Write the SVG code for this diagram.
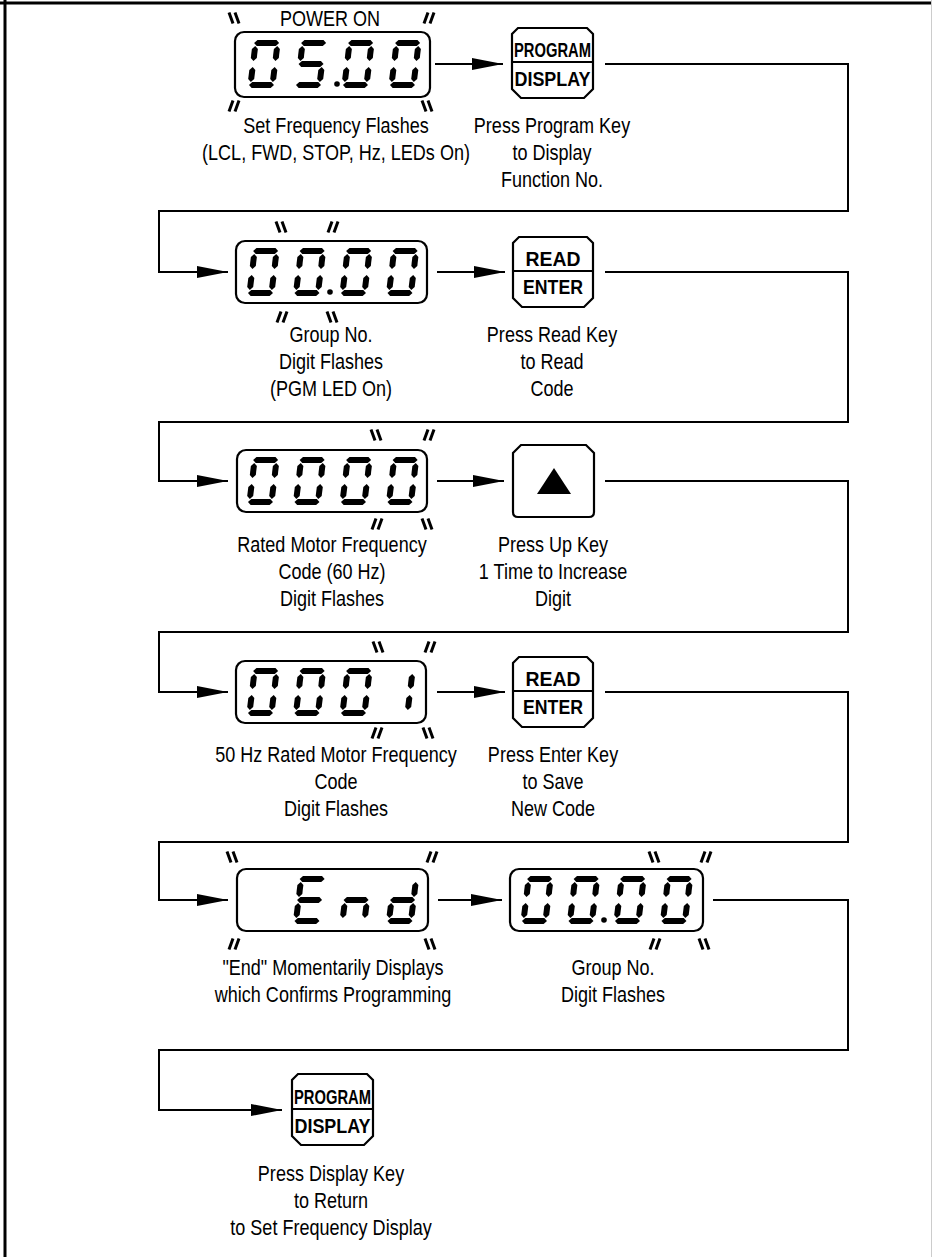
<svg xmlns="http://www.w3.org/2000/svg" width="932" height="1257" viewBox="0 0 932 1257">
<style>
.ln{fill:none;stroke:#000;stroke-width:2}
.box{fill:#fff;stroke:#000;stroke-width:2.2}
.fl{fill:none;stroke:#000;stroke-width:3}
.lbl{font-family:"Liberation Sans",Arial,sans-serif;font-size:22px;fill:#000;text-anchor:middle}
.key{font-family:"Liberation Sans",Arial,sans-serif;font-weight:bold;font-size:21px;fill:#000;text-anchor:middle}
</style>
<defs>
<marker id="ah" markerUnits="userSpaceOnUse" markerWidth="31" markerHeight="12" refX="31" refY="6" orient="auto">
<path d="M0,0 L31,6 L0,12 Z" fill="#000"/>
</marker>
<polygon id="sa" points="1.5,3 4.5,0 23.5,0 26.5,3 23.5,6 4.5,6"/>
<polygon id="sg" points="1.5,24 4.5,21 23.5,21 26.5,24 23.5,27 4.5,27"/>
<polygon id="sd" points="1.5,45 4.5,42 23.5,42 26.5,45 23.5,48 4.5,48"/>
<polygon id="sf" points="3,6 6,9 6,18 3,21 0,18 0,9"/>
<polygon id="se" points="3,27 6,30 6,39 3,42 0,39 0,30"/>
<polygon id="sb" points="25,6 28,9 28,18 25,21 22,18 22,9"/>
<polygon id="sc" points="25,27 28,30 28,39 25,42 22,39 22,30"/>
<g id="d0"><use href="#sa"/><use href="#sb"/><use href="#sc"/><use href="#sd"/><use href="#se"/><use href="#sf"/></g>
<g id="d1"><use href="#sb"/><use href="#sc"/></g>
<g id="d5"><use href="#sa"/><use href="#sf"/><use href="#sg"/><use href="#sc"/><use href="#sd"/></g>
<g id="dE"><use href="#sa"/><use href="#sf"/><use href="#sg"/><use href="#se"/><use href="#sd"/></g>
<g id="dn"><use href="#se"/><use href="#sg"/><use href="#sc"/></g>
<g id="dd"><use href="#sb"/><use href="#sc"/><use href="#sd"/><use href="#se"/><use href="#sg"/></g>
<path id="bs" class="fl" d="M-6,-5.5 L-2,5.5 M0,-5.5 L4,5.5"/>
<path id="fs" class="fl" d="M6,-5.5 L2,5.5 M0,-5.5 L-4,5.5"/>
</defs>

<g id="frame">
<line x1="0" y1="3" x2="932" y2="3" stroke="#000" stroke-width="3"/>
<line x1="5" y1="0" x2="5" y2="1257" stroke="#000" stroke-width="3"/>
<line x1="931.5" y1="0" x2="931.5" y2="1257" stroke="#ccc" stroke-width="1"/>
</g>

<g id="connectors">
<polyline class="ln" marker-end="url(#ah)" points="435,64 503,64"/>
<polyline class="ln" marker-end="url(#ah)" points="605,64 848,64 848,211 159,211 159,272 228,272"/>
<polyline class="ln" marker-end="url(#ah)" points="437,272 505,272"/>
<polyline class="ln" marker-end="url(#ah)" points="605,272 848,272 848,422 159,422 159,481 228,481"/>
<polyline class="ln" marker-end="url(#ah)" points="437,481 504,481"/>
<polyline class="ln" marker-end="url(#ah)" points="605,481 848,481 848,632 159,632 159,692 228,692"/>
<polyline class="ln" marker-end="url(#ah)" points="437,692 505,692"/>
<polyline class="ln" marker-end="url(#ah)" points="605,692 848,692 848,842 159,842 159,900 228,900"/>
<polyline class="ln" marker-end="url(#ah)" points="438,900 502,900"/>
<polyline class="ln" marker-end="url(#ah)" points="713,900 848,900 848,1050 159,1050 159,1110 282,1110"/>
</g>

<g id="display1">
<text class="lbl" transform="translate(330 26) scale(.82 1)">POWER ON</text>
<rect class="box" x="235" y="32" width="195" height="65" rx="9"/>
<use href="#d0" transform="translate(253 40) skewX(-7)"/>
<use href="#d5" transform="translate(300 40) skewX(-7)"/>
<circle cx="337" cy="84" r="2.8"/>
<use href="#d0" transform="translate(347 40) skewX(-7)"/>
<use href="#d0" transform="translate(394 40) skewX(-7)"/>
<use href="#bs" x="235" y="18"/><use href="#fs" x="428" y="18"/>
<use href="#fs" x="233" y="106"/><use href="#bs" x="428" y="106"/>
<text class="lbl" transform="translate(336 133) scale(.82 1)">Set Frequency Flashes</text>
<text class="lbl" transform="translate(336 160) scale(.82 1)">(LCL, FWD, STOP, Hz, LEDs On)</text>
</g>

<g id="key-program1">
<path class="box" d="M518,28 L587,28 L593,34 L593,89 L584,98 L521,98 L512,89 L512,34 Z"/>
<line x1="512" y1="62" x2="593" y2="62" stroke="#000" stroke-width="2"/>
<text class="key" x="552.5" y="57" font-size="22" textLength="77" lengthAdjust="spacingAndGlyphs">PROGRAM</text>
<text class="key" x="552.5" y="86" font-size="22" textLength="76" lengthAdjust="spacingAndGlyphs">DISPLAY</text>
<text class="lbl" transform="translate(552 133) scale(.82 1)">Press Program Key</text>
<text class="lbl" transform="translate(552 160) scale(.82 1)">to Display</text>
<text class="lbl" transform="translate(552 187) scale(.82 1)">Function No.</text>
</g>

<g id="display2">
<rect class="box" x="236" y="241" width="191" height="62" rx="9"/>
<use href="#d0" transform="translate(252 248) skewX(-7)"/>
<use href="#d0" transform="translate(298.5 248) skewX(-7)"/>
<circle cx="330" cy="292" r="2.8"/>
<use href="#d0" transform="translate(345 248) skewX(-7)"/>
<use href="#d0" transform="translate(391.5 248) skewX(-7)"/>
<use href="#bs" x="282" y="227"/><use href="#fs" x="332" y="227"/>
<use href="#fs" x="281" y="317"/><use href="#bs" x="333" y="317"/>
<text class="lbl" transform="translate(331 342) scale(.82 1)">Group No.</text>
<text class="lbl" transform="translate(331 369) scale(.82 1)">Digit Flashes</text>
<text class="lbl" transform="translate(331 396) scale(.82 1)">(PGM LED On)</text>
</g>

<g id="key-read">
<path class="box" d="M519,237 L587,237 L593,243 L593,298 L584,307 L522,307 L513,298 L513,243 Z"/>
<line x1="513" y1="271" x2="593" y2="271" stroke="#000" stroke-width="2"/>
<text class="key" x="553" y="266" textLength="55" lengthAdjust="spacingAndGlyphs">READ</text>
<text class="key" x="553" y="294" textLength="60" lengthAdjust="spacingAndGlyphs">ENTER</text>
<text class="lbl" transform="translate(552 342) scale(.82 1)">Press Read Key</text>
<text class="lbl" transform="translate(552 369) scale(.82 1)">to Read</text>
<text class="lbl" transform="translate(552 396) scale(.82 1)">Code</text>
</g>

<g id="display3">
<rect class="box" x="237" y="450" width="190" height="62" rx="9"/>
<use href="#d0" transform="translate(252 457) skewX(-7)"/>
<use href="#d0" transform="translate(298.5 457) skewX(-7)"/>
<use href="#d0" transform="translate(345 457) skewX(-7)"/>
<use href="#d0" transform="translate(391.5 457) skewX(-7)"/>
<use href="#bs" x="377" y="435"/><use href="#fs" x="428" y="435"/>
<use href="#fs" x="376" y="524"/><use href="#bs" x="428" y="524"/>
<text class="lbl" transform="translate(332 552) scale(.82 1)">Rated Motor Frequency</text>
<text class="lbl" transform="translate(332 579) scale(.82 1)">Code (60 Hz)</text>
<text class="lbl" transform="translate(332 606) scale(.82 1)">Digit Flashes</text>
</g>

<g id="key-up">
<path class="box" d="M521,445 L586,445 L594,453 L594,512 Q594,517 589,517 L518,517 Q513,517 513,512 L513,453 Z"/>
<polygon points="554,468 571,494 537,494" fill="#000"/>
<text class="lbl" transform="translate(553 552) scale(.82 1)">Press Up Key</text>
<text class="lbl" transform="translate(553 579) scale(.82 1)">1 Time to Increase</text>
<text class="lbl" transform="translate(553 606) scale(.82 1)">Digit</text>
</g>

<g id="display4">
<rect class="box" x="236" y="661" width="190" height="62" rx="9"/>
<use href="#d0" transform="translate(252 668) skewX(-7)"/>
<use href="#d0" transform="translate(298.5 668) skewX(-7)"/>
<use href="#d0" transform="translate(345 668) skewX(-7)"/>
<use href="#d1" transform="translate(388 668) skewX(-7)"/>
<use href="#bs" x="379" y="647"/><use href="#fs" x="429" y="647"/>
<use href="#fs" x="376" y="733"/><use href="#bs" x="429" y="733"/>
<text class="lbl" transform="translate(336 762) scale(.82 1)">50 Hz Rated Motor Frequency</text>
<text class="lbl" transform="translate(336 789) scale(.82 1)">Code</text>
<text class="lbl" transform="translate(336 816) scale(.82 1)">Digit Flashes</text>
</g>

<g id="key-enter">
<path class="box" d="M519,657 L587,657 L593,663 L593,718 L584,727 L522,727 L513,718 L513,663 Z"/>
<line x1="513" y1="691" x2="593" y2="691" stroke="#000" stroke-width="2"/>
<text class="key" x="553" y="686" textLength="55" lengthAdjust="spacingAndGlyphs">READ</text>
<text class="key" x="553" y="714" textLength="60" lengthAdjust="spacingAndGlyphs">ENTER</text>
<text class="lbl" transform="translate(553 762) scale(.82 1)">Press Enter Key</text>
<text class="lbl" transform="translate(553 789) scale(.82 1)">to Save</text>
<text class="lbl" transform="translate(553 816) scale(.82 1)">New Code</text>
</g>

<g id="display5">
<rect class="box" x="237" y="869" width="191" height="62" rx="9"/>
<use href="#dE" transform="translate(298.5 876) skewX(-7)"/>
<use href="#dn" transform="translate(345 876) skewX(-7)"/>
<use href="#dd" transform="translate(391.5 876) skewX(-7)"/>
<use href="#bs" x="233" y="857"/><use href="#fs" x="431" y="857"/>
<use href="#fs" x="233" y="944"/><use href="#bs" x="431" y="944"/>
<text class="lbl" transform="translate(333 975) scale(.82 1)">"End" Momentarily Displays</text>
<text class="lbl" transform="translate(333 1002) scale(.82 1)">which Confirms Programming</text>
</g>

<g id="display6">
<rect class="box" x="510" y="869" width="193" height="62" rx="9"/>
<use href="#d0" transform="translate(526 876) skewX(-7)"/>
<use href="#d0" transform="translate(572.5 876) skewX(-7)"/>
<circle cx="604" cy="920" r="2.8"/>
<use href="#d0" transform="translate(619 876) skewX(-7)"/>
<use href="#d0" transform="translate(665.5 876) skewX(-7)"/>
<use href="#bs" x="655" y="857"/><use href="#fs" x="705" y="857"/>
<use href="#fs" x="654" y="944"/><use href="#bs" x="705" y="944"/>
<text class="lbl" transform="translate(613 975) scale(.82 1)">Group No.</text>
<text class="lbl" transform="translate(613 1002) scale(.82 1)">Digit Flashes</text>
</g>

<g id="key-program2">
<path class="box" d="M298,1074 L367,1074 L373,1080 L373,1136 L364,1145 L301,1145 L292,1136 L292,1080 Z"/>
<line x1="292" y1="1109" x2="373" y2="1109" stroke="#000" stroke-width="2"/>
<text class="key" x="332.5" y="1104" font-size="22" textLength="77" lengthAdjust="spacingAndGlyphs">PROGRAM</text>
<text class="key" x="332.5" y="1133" font-size="22" textLength="76" lengthAdjust="spacingAndGlyphs">DISPLAY</text>
<text class="lbl" transform="translate(331 1181) scale(.82 1)">Press Display Key</text>
<text class="lbl" transform="translate(331 1208) scale(.82 1)">to Return</text>
<text class="lbl" transform="translate(331 1235) scale(.82 1)">to Set Frequency Display</text>
</g>
</svg>
